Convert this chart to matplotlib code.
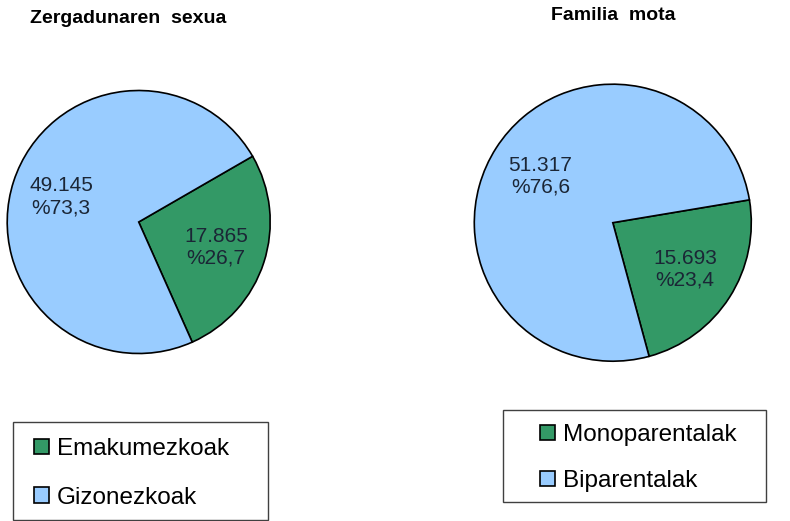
import matplotlib
matplotlib.use('Agg')
import matplotlib.pyplot as plt
from matplotlib.patches import Rectangle

W, H = 790, 521

colors = ['#339966', '#99ccff']

sex_title = 'Zergadunaren  sexua'
sex_labels = ['Emakumezkoak', 'Gizonezkoak']
sex_values = [17865, 49145]

family_title = 'Familia  mota'
family_labels = ['Monoparentalak', 'Biparentalak']
family_values = [15693, 51317]

plt.rcParams['font.family'] = ['Liberation Sans', 'DejaVu Sans']

fig = plt.figure(figsize=(W / 100, H / 100), dpi=100)


def fmt_label(values):
    total = sum(values)

    def f(pct):
        v = int(round(pct * total / 100))
        return f"{v:,}".replace(',', '.') + "\n%" + f"{pct:.1f}".replace('.', ',')
    return f


def draw_pie(cx, cy, r, values, start, title, tx, ty):
    # axes placed in pixel coords so the pie lands where the reference has it
    ax = fig.add_axes([(cx - r) / W, (H - cy - r) / H, 2 * r / W, 2 * r / H])
    wedges, texts, autotexts = ax.pie(
        values, colors=colors, startangle=start, counterclock=False,
        autopct=fmt_label(values), pctdistance=0.62,
        wedgeprops=dict(edgecolor='black', linewidth=1.2),
        textprops=dict(fontsize=15, color='#1b2636'))
    ax.set_xlim(-1, 1)
    ax.set_ylim(-1, 1)
    for w in wedges:
        w.set_clip_on(False)
    fig.text(tx / W, 1 - ty / H, title, ha='center', va='baseline',
             fontsize=14, fontweight='bold')
    return wedges


def draw_legend(box, anchor, handles, labels, spacing):
    x0, y0, x1, y1 = box
    fig.patches.append(Rectangle((x0 / W, 1 - y1 / H), (x1 - x0) / W, (y1 - y0) / H,
                                 transform=fig.transFigure, fill=False,
                                 edgecolor='#404040', linewidth=1.0))
    fig.legend(handles, labels, loc='upper left',
               bbox_to_anchor=(anchor[0] / W, 1 - anchor[1] / H),
               frameon=False, fontsize=17.5, handlelength=0.6, handleheight=0.6,
               handletextpad=0.35, labelspacing=spacing, borderpad=0,
               borderaxespad=0)


w1 = draw_pie(138.7, 222, 131.5, sex_values, 30, sex_title, 128.5, 23)
w2 = draw_pie(612.8, 222.7, 138.5, family_values, 9.5, family_title, 613, 20)

draw_legend((12.7, 421.7, 267.7, 519.5), (34, 438), w1, sex_labels, 1.1)
draw_legend((502.7, 410, 766, 501.7), (540, 424), w2, family_labels, 0.98)

fig.savefig('out.png', dpi=100)
